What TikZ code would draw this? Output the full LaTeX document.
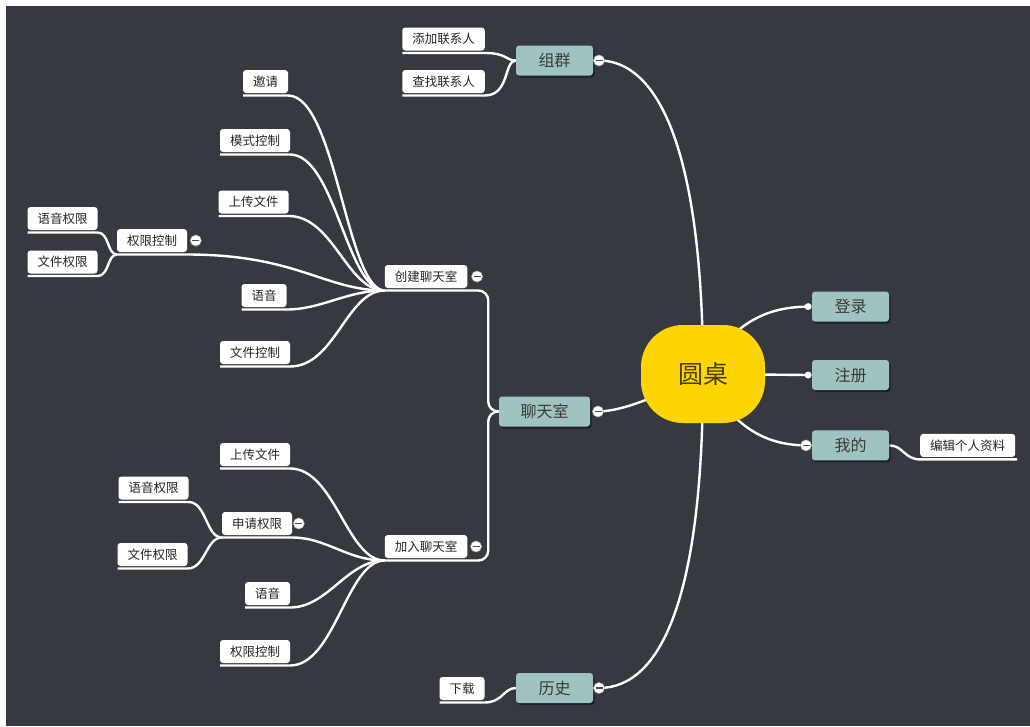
\documentclass[tikz,border=0pt]{standalone}
\usepackage{fontspec}
\newfontfamily\cjk{Noto Sans CJK SC}
\usepackage{tikz}
\usetikzlibrary{positioning}
\usetikzlibrary{shadows}
\usetikzlibrary{backgrounds}
\definecolor{board}{HTML}{363A40}
\definecolor{topicteal}{HTML}{9FC3BE}
\definecolor{rootgold}{HTML}{FFD500}
\definecolor{inkgray}{HTML}{3A3A3A}

\begin{document}
\begin{tikzpicture}[x=1pt,y=-1pt]

	\tikzset{RootStyle/.style = {rectangle, rounded corners=42pt,
			fill = rootgold,
			minimum width = 124pt, minimum height = 98pt,
			font = \cjk\fontsize{25}{30}\selectfont,
			text = black!72!rootgold}}
	\tikzset{BranchStyle/.style = {rectangle, rounded corners=3pt,
			fill = topicteal,
			minimum width = 77pt, minimum height = 30pt,
			font = \cjk\fontsize{16}{19}\selectfont,
			text = inkgray,
			drop shadow = {shadow xshift=1.5pt, shadow yshift=-2pt, opacity=0.45, fill=black}}}
	\tikzset{LeafStyle/.style = {rectangle, rounded corners=3pt,
			fill = white,
			minimum height = 23pt, inner xsep = 10pt,
			outer xsep = 0pt, outer ysep = 2.5pt,
			font = \cjk\fontsize{12.5}{15}\selectfont,
			text = black!85}}
	\tikzset{FoldStyle/.style = {circle, fill=white, draw=gray!60,
			line width = 0.6pt, minimum size = 11pt, inner sep = 0pt,
			path picture = {\draw[gray!60!black, line width=1.2pt]
				([xshift=-3.5pt]path picture bounding box.center) --
				([xshift=3.5pt]path picture bounding box.center);}}}
	\tikzset{DotStyle/.style = {circle, fill=white, minimum size=7pt, inner sep=0pt}}
	\tikzset{EdgeStyle/.style = {draw=white, line width=2.4pt}}

	\node[RootStyle](yz) at (703,374){圆桌};

	\node[BranchStyle](zc) at (850.5,375){注册};
	\node[BranchStyle,above=38pt of zc](dl){登录};
	\node[BranchStyle,below=40pt of zc](wd){我的};
	\node[LeafStyle,right=31pt of wd](bj){编辑个人资料};
	\node[DotStyle,left=0pt of dl](dlm){};
	\node[DotStyle,left=0pt of zc](zcm){};
	\node[FoldStyle,left=0pt of wd](wdm){};

	\node[BranchStyle](zq) at (554.5,60.5){组群};
	\node[FoldStyle,right=0pt of zq](zqm){};
	\node[LeafStyle](tj) at (443.5,39){添加联系人};
	\node[LeafStyle](cz) at (443.5,81.5){查找联系人};

	\node[BranchStyle,minimum width=91pt](lts) at (544.5,411.5){聊天室};
	\node[FoldStyle,right=2pt of lts](ltsm){};

	\node[LeafStyle](cj) at (426,276.5){创建聊天室};
	\node[FoldStyle,right=4pt of cj](cjm){};
	\node[LeafStyle](yq) at (265.5,81.5){邀请};
	\node[LeafStyle](ms) at (255,140.5){模式控制};
	\node[LeafStyle](sc1) at (253.5,202){上传文件};
	\node[LeafStyle](qx1) at (152,240.5){权限控制};
	\node[FoldStyle,right=3pt of qx1](qx1m){};
	\node[LeafStyle](yy1) at (62.5,218.5){语音权限};
	\node[LeafStyle](wj1) at (62.5,262){文件权限};
	\node[LeafStyle](yy) at (264,295.5){语音};
	\node[LeafStyle](wk) at (255,352.5){文件控制};

	\node[LeafStyle](jr) at (426,546.5){加入聊天室};
	\node[FoldStyle,right=3pt of jr](jrm){};
	\node[LeafStyle](sc2) at (255,454.5){上传文件};
	\node[LeafStyle](sq) at (257,523.5){申请权限};
	\node[FoldStyle,right=1pt of sq](sqm){};
	\node[LeafStyle](yy2) at (153.5,488){语音权限};
	\node[LeafStyle](wj2) at (152.5,554.5){文件权限};
	\node[LeafStyle](yy3) at (267.5,593.5){语音};
	\node[LeafStyle](qx2) at (255,651.5){权限控制};

	\node[BranchStyle](ls) at (554.5,688){历史};
	\node[FoldStyle,right=0pt of ls](lsm){};
	\node[LeafStyle](xz) at (462,688.5){下载};

	\begin{pgfonlayer}{background}
	\useasboundingbox (0,0) rectangle (1030,726);
	\fill[white] (0,0) rectangle (1030,726);
	\fill[board] (6,6) rectangle (1030,726);

	\draw[EdgeStyle](yz.center) .. controls (703,170) and (665,61) .. (zqm.center);
	\draw[EdgeStyle](yz.center) .. controls (660,395) and (625,411) .. (ltsm.center);
	\draw[EdgeStyle](yz.center) .. controls (703,600) and (660,688) .. (lsm.center);
	\draw[EdgeStyle](yz.center) .. controls (735,318) and (772,307) .. (dlm.center);
	\draw[EdgeStyle](yz.center) -- (zcm.center);
	\draw[EdgeStyle](yz.center) .. controls (735,432) and (770,445) .. (wdm.center);

	\draw[EdgeStyle](wd.east) .. controls +(14,0) and +(-16,0) .. (bj.south west) -- ([xshift=2pt]bj.south east);
	\draw[EdgeStyle](tj.south west) -- (tj.south east) .. controls +(22,0) and +(-10,0) .. (zq.west);
	\draw[EdgeStyle](cz.south west) -- (cz.south east) .. controls +(25,0) and +(-12,0) .. (zq.west);
	\draw[EdgeStyle](xz.south west) -- (xz.south east) .. controls +(18,0) and +(-12,0) .. (ls.west);

	\draw[EdgeStyle,rounded corners=10pt](cj.south west) -- (cj.south east) -- ++(21,0) |- (lts.west);
	\draw[EdgeStyle,rounded corners=10pt](jr.south west) -- (jr.south east) -- ++(21,0) |- (lts.west);

	\draw[EdgeStyle](yq.south west) -- (yq.south east) .. controls +(48,0) and +(-38,0) .. (cj.south west);
	\draw[EdgeStyle](ms.south west) -- (ms.south east) .. controls +(45,0) and +(-38,0) .. (cj.south west);
	\draw[EdgeStyle](sc1.south west) -- (sc1.south east) .. controls +(45,0) and +(-38,0) .. (cj.south west);
	\draw[EdgeStyle](qx1.south west) -- (qx1.south east) .. controls +(110,0) and +(-60,0) .. (cj.south west);
	\draw[EdgeStyle](yy.south west) -- (yy.south east) .. controls +(35,0) and +(-38,0) .. (cj.south west);
	\draw[EdgeStyle](wk.south west) -- (wk.south east) .. controls +(45,0) and +(-38,0) .. (cj.south west);
	\draw[EdgeStyle](yy1.south west) -- (yy1.south east) .. controls +(12,0) and +(-10,0) .. (qx1.south west);
	\draw[EdgeStyle](wj1.south west) -- (wj1.south east) .. controls +(12,0) and +(-10,0) .. (qx1.south west);

	\draw[EdgeStyle](sc2.south west) -- (sc2.south east) .. controls +(45,0) and +(-38,0) .. (jr.south west);
	\draw[EdgeStyle](sq.south west) -- (sq.south east) .. controls +(35,0) and +(-38,0) .. (jr.south west);
	\draw[EdgeStyle](yy3.south west) -- (yy3.south east) .. controls +(38,0) and +(-38,0) .. (jr.south west);
	\draw[EdgeStyle](qx2.south west) -- (qx2.south east) .. controls +(45,0) and +(-38,0) .. (jr.south west);
	\draw[EdgeStyle](yy2.south west) -- (yy2.south east) .. controls +(18,0) and +(-16,0) .. (sq.south west);
	\draw[EdgeStyle](wj2.south west) -- (wj2.south east) .. controls +(18,0) and +(-16,0) .. (sq.south west);
	\end{pgfonlayer}
\end{tikzpicture}
\end{document}
